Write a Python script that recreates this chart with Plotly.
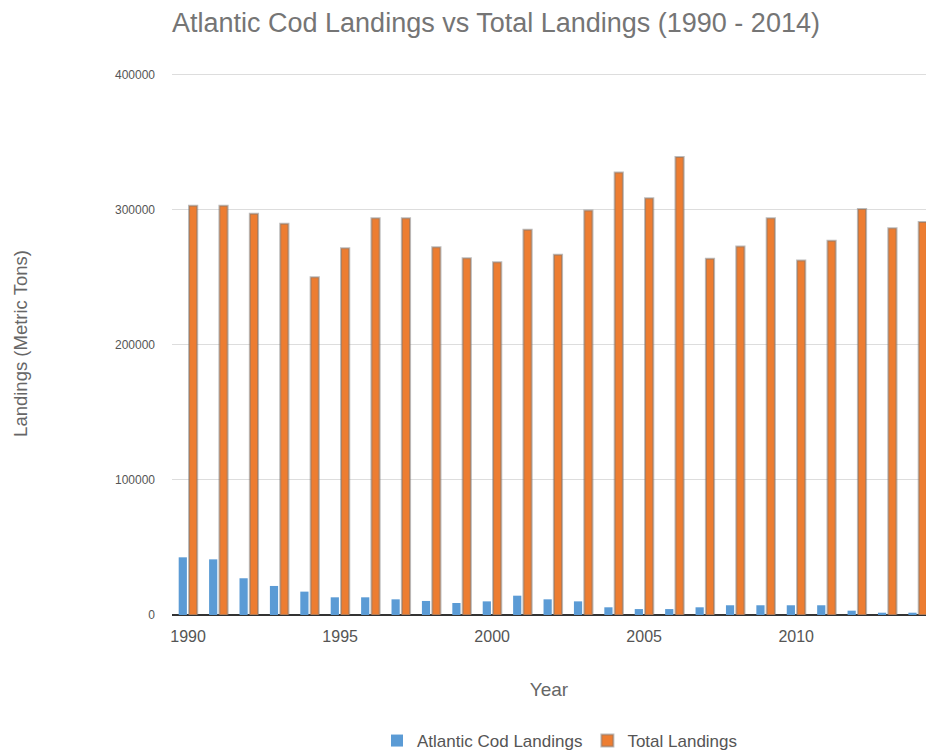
import plotly.graph_objects as go

years = list(range(1990, 2015))
cod_landings = [42700, 41200, 27200, 21500, 17300, 13100, 13100, 11600, 10400, 8900,
                10100, 14300, 11600, 10100, 5700, 4400, 4400, 5700, 7200, 7200,
                7200, 7200, 3200, 1700, 1700]
total_landings = [303000, 303000, 297000, 289600, 250100, 271600, 293800, 293800, 272300, 264200,
                  261200, 285200, 266700, 299500, 327600, 308600, 339000, 263700, 272800, 293800,
                  262400, 277000, 300500, 286400, 290900]
x_ticks = [1990, 1995, 2000, 2005, 2010]
y_ticks = [0, 100000, 200000, 300000, 400000]

FONT = "Liberation Sans, Arial, sans-serif"

fig = go.Figure()
fig.add_trace(go.Bar(
    x=years, y=cod_landings, name="Atlantic Cod Landings",
    marker=dict(color="#5B9BD5", line=dict(width=0)),
    width=0.27, offset=-0.31,
))
fig.add_trace(go.Bar(
    x=years, y=total_landings, name="Total Landings",
    marker=dict(color="#ED7D31", line=dict(color="rgba(120,120,120,0.5)", width=2)),
    width=0.27, offset=0.03,
))

fig.update_layout(
    width=926, height=753,
    margin=dict(l=172, r=0, t=72, b=138),
    paper_bgcolor="white", plot_bgcolor="white",
    font=dict(family=FONT, color="#555555", size=13),
    title=dict(
        text="Atlantic Cod Landings vs Total Landings (1990 - 2014)",
        x=172/926, xanchor="left", xref="container",
        y=1 - 23/753, yanchor="middle", yref="container",
        font=dict(size=27, color="#757575", family=FONT),
    ),
    showlegend=True,
    legend=dict(
        orientation="h", xref="container", yref="container",
        x=560/926, xanchor="center", y=1 - 741/753, yanchor="middle",
        font=dict(size=17, color="#555555"),
        itemwidth=30,
    ),
    barmode="overlay",
)
fig.update_xaxes(
    range=[1989.47, 2014.27],
    tickvals=x_ticks, ticktext=[str(v) for v in x_ticks],
    showgrid=False, zeroline=False, showline=False,
    ticks="", tickfont=dict(size=16, color="#555555"),
    ticklabelstandoff=10,
    title=dict(text="Year", font=dict(size=19, color="#666666"), standoff=38),
)
fig.update_yaxes(
    range=[0, 402000],
    tickvals=y_ticks, ticktext=[str(v) for v in y_ticks],
    showgrid=True, gridcolor="#dddddd", gridwidth=1,
    zeroline=True, zerolinecolor="#333333", zerolinewidth=2,
    ticks="", tickfont=dict(size=12, color="#555555"),
    ticklabelstandoff=16,
    title=dict(text="Landings (Metric Tons)", font=dict(size=18.5, color="#666666"), standoff=82),
)

fig.write_html("out.html")
